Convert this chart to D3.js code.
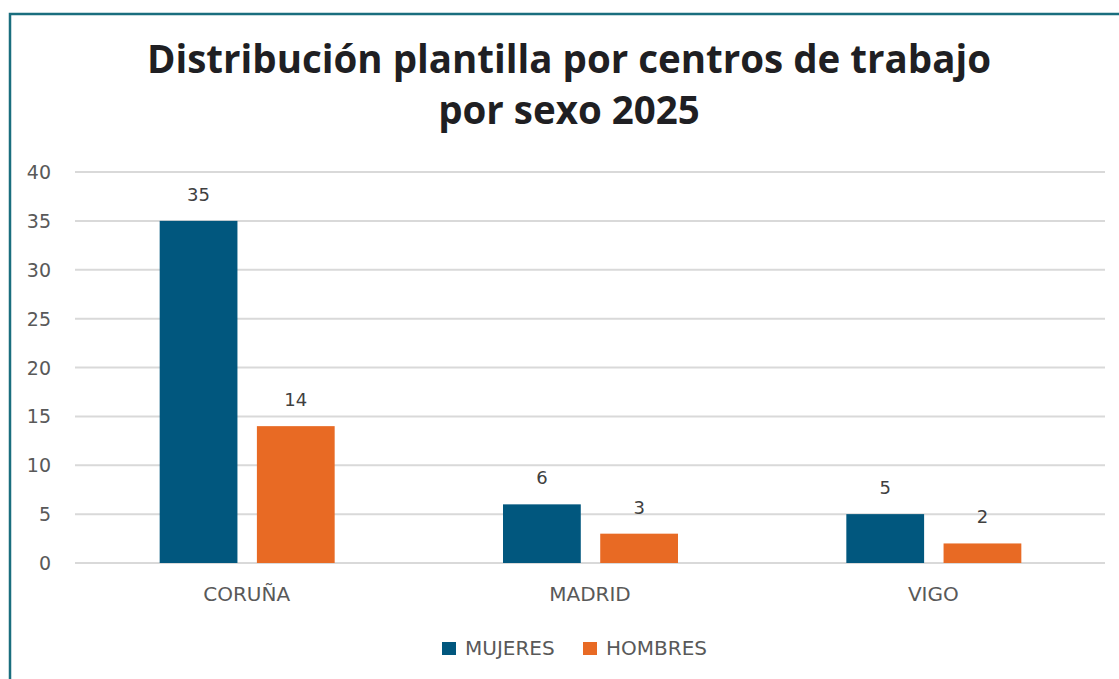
<!DOCTYPE html>
<html>
<head>
<meta charset="utf-8">
<script src="https://cdn.jsdelivr.net/npm/d3@7"></script>
<style>
  body { margin: 0; background: #fff; }
  text { font-family: "DejaVu Sans", sans-serif; }
  text.title { font-family: "Open Sans", sans-serif; }
</style>
</head>
<body>
<div id="chart"></div>
<script>
// data
var centros = ["CORUÑA", "MADRID", "VIGO"];
var series = ["MUJERES", "HOMBRES"];
var mujeres = [35, 6, 5];
var hombres = [14, 3, 2];
var yTicks = [0, 5, 10, 15, 20, 25, 30, 35, 40];
var colores = ["#01577e", "#e86a24"];

var W = 1119, H = 679;
var margin = { top: 172, right: 14, bottom: 116, left: 75 },
    width = W - margin.left - margin.right,
    height = H - margin.top - margin.bottom;

var svg = d3.select("#chart")
    .append("svg")
    .attr("width", W)
    .attr("height", H);

// frame (cropped on right and bottom)
svg.append("rect")
    .attr("x", 10).attr("y", 14)
    .attr("width", W + 20).attr("height", H + 20)
    .attr("fill", "none")
    .attr("stroke", "#1a6e7e")
    .attr("stroke-width", 2.5);

// title
var title = svg.append("text")
    .attr("class", "title")
    .attr("text-anchor", "middle")
    .attr("font-weight", "bold")
    .attr("font-size", 38.5)
    .attr("fill", "#1f1f23");
title.append("tspan").attr("x", 569).attr("y", 73).text("Distribución plantilla por centros de trabajo");
title.append("tspan").attr("x", 569).attr("y", 124).text("por sexo 2025");

var g = svg.append("g")
    .attr("transform", "translate(" + margin.left + "," + margin.top + ")");

var x0 = d3.scaleBand().domain(centros).range([0, width]);
var x1 = d3.scaleBand().domain(series).range([0, 175]).paddingInner(0.2);
var y = d3.scaleLinear().domain([0, 40]).range([height, 0]);

// gridlines
g.selectAll(".grid")
    .data(yTicks)
    .enter().append("line")
    .attr("x1", 0).attr("x2", width)
    .attr("y1", function(d) { return y(d); })
    .attr("y2", function(d) { return y(d); })
    .attr("stroke", "#d9d9d9")
    .attr("stroke-width", 2);

// y axis
var yAxis = g.append("g")
    .call(d3.axisLeft(y).tickValues(yTicks).tickSize(0).tickPadding(24));
yAxis.select(".domain").remove();
yAxis.selectAll("text")
    .attr("dy", 6.5)
    .attr("font-size", 19)
    .attr("fill", "#595959");

// x axis
var xAxis = g.append("g")
    .attr("transform", "translate(0," + height + ")")
    .call(d3.axisBottom(x0).tickSize(0));
xAxis.select(".domain").remove();
xAxis.selectAll("text")
    .attr("y", 38)
    .attr("dy", null)
    .attr("font-size", 20)
    .attr("fill", "#595959");

// bars
var rows = centros.map(function(c, i) {
    return { centro: c, values: [
        { key: series[0], value: mujeres[i] },
        { key: series[1], value: hombres[i] }
    ] };
});

var groups = g.selectAll(".grupo")
    .data(rows)
    .enter().append("g")
    .attr("transform", function(d) {
        return "translate(" + (x0(d.centro) + x0.bandwidth() / 2 - 87) + ",0)";
    });

groups.selectAll("rect")
    .data(function(d) { return d.values; })
    .enter().append("rect")
    .attr("x", function(d) { return x1(d.key); })
    .attr("y", function(d) { return y(d.value); })
    .attr("width", x1.bandwidth())
    .attr("height", function(d) { return height - y(d.value); })
    .attr("fill", function(d, i) { return colores[i]; });

groups.selectAll(".label")
    .data(function(d) { return d.values; })
    .enter().append("text")
    .attr("class", "label")
    .attr("x", function(d) { return x1(d.key) + x1.bandwidth() / 2; })
    .attr("y", function(d) { return y(d.value) - 20; })
    .attr("text-anchor", "middle")
    .attr("font-size", 18)
    .attr("fill", "#404040")
    .text(function(d) { return d.value; });

// legend
var legend = svg.append("g").attr("transform", "translate(442,655)");
var items = [{ label: series[0], x: 0 }, { label: series[1], x: 141 }];
items.forEach(function(it, i) {
    legend.append("rect")
        .attr("x", it.x).attr("y", -13)
        .attr("width", 14).attr("height", 13)
        .attr("fill", colores[i]);
    legend.append("text")
        .attr("x", it.x + 23).attr("y", 0)
        .attr("font-size", 20)
        .attr("fill", "#595959")
        .text(it.label);
});
</script>
</body>
</html>
